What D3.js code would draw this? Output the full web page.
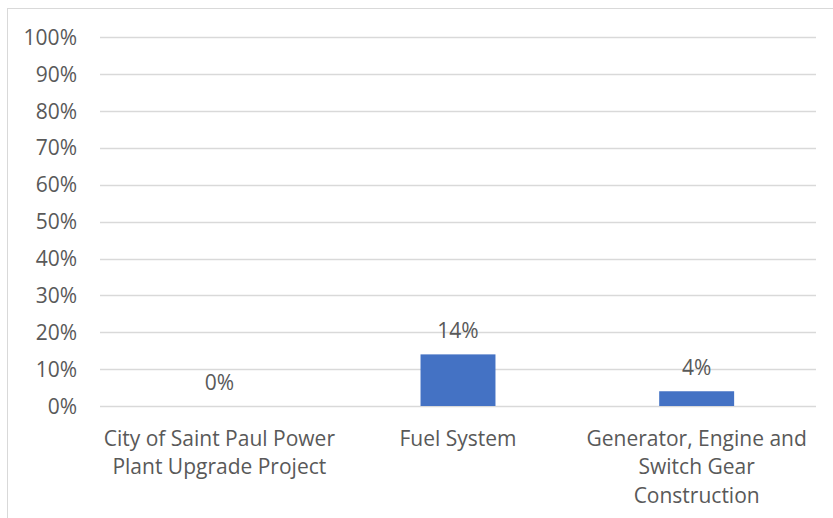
<!DOCTYPE html>
<html><head><meta charset="utf-8">
<script src="https://cdn.jsdelivr.net/npm/d3@7"></script>
<style>body{margin:0;background:#fff;} svg{display:block;} text{font-family:"Open Sans","Noto Sans",sans-serif;fill:#595959;}</style>
</head><body>
<script>
const categories = [["City of Saint Paul Power","Plant Upgrade Project"],["Fuel System"],["Generator, Engine and","Switch Gear","Construction"]];
const values = [0, 0.14, 0.04];
const valueLabels = ["0%","14%","4%"];
const yTicks = [0,0.1,0.2,0.3,0.4,0.5,0.6,0.7,0.8,0.9,1.0];

const W=833,H=518;
const svg=d3.select("body").append("svg").attr("width",W).attr("height",H);
svg.append("rect").attr("x",7.5).attr("y",8.5).attr("width",W).attr("height",H).attr("fill","none").attr("stroke","#d9d9d9").attr("stroke-width",1);

const x=d3.scaleBand().domain(d3.range(categories.length)).range([100,816]).paddingInner(0.686).paddingOuter(0.343);
const y=d3.scaleLinear().domain([0,1]).range([406,37.3]);

const fs=21;
svg.append("g").selectAll("line").data(yTicks).join("line")
  .attr("x1",100).attr("x2",816).attr("y1",d=>Math.round(y(d))+0.5).attr("y2",d=>Math.round(y(d))+0.5)
  .attr("stroke","#d9d9d9").attr("stroke-width",1.3);
svg.append("g").selectAll("text").data(yTicks).join("text")
  .attr("x",77).attr("y",d=>y(d)).attr("dy","0.36em").attr("text-anchor","end").attr("font-size",fs)
  .text(d=>d3.format(".0%")(d));

svg.append("g").selectAll("rect").data(values).join("rect")
  .attr("x",(d,i)=>x(i)).attr("width",x.bandwidth()).attr("y",d=>y(d)).attr("height",d=>y(0)-y(d)).attr("fill","#4472c4");

svg.append("g").selectAll("text").data(values).join("text")
  .attr("x",(d,i)=>x(i)+x.bandwidth()/2).attr("y",d=>y(d)-24).attr("dy","0.36em").attr("text-anchor","middle").attr("font-size",fs)
  .text((d,i)=>valueLabels[i]);

const cg=svg.append("g").selectAll("text").data(categories).join("text")
  .attr("x",(d,i)=>x(i)+x.bandwidth()/2).attr("y",438).attr("text-anchor","middle").attr("font-size",fs);
cg.selectAll("tspan").data(d=>d).join("tspan").attr("x",function(){return this.parentNode.getAttribute("x");})
  .attr("dy",(d,i)=>i===0?"0.36em":"28.5px").text(d=>d);
</script>
</body></html>
